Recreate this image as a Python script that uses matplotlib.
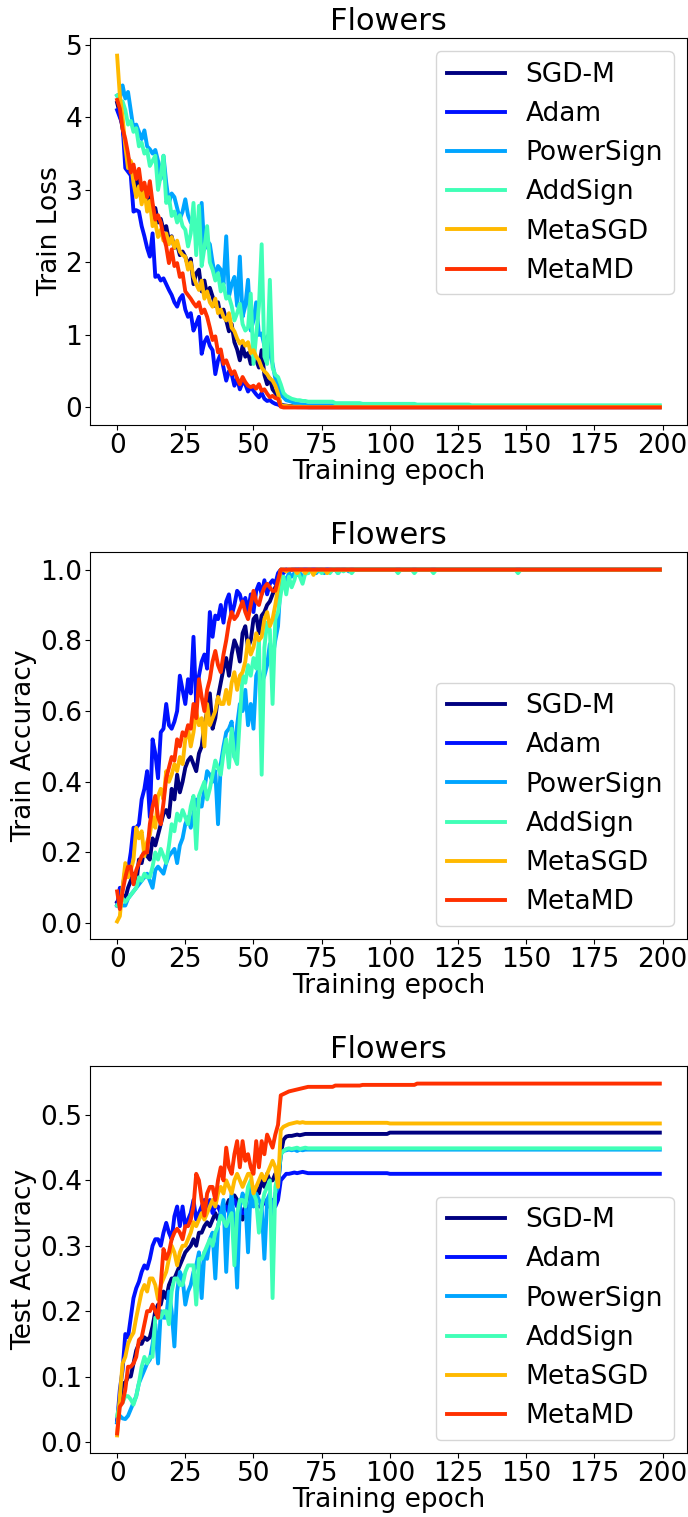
import matplotlib.pyplot as plt
import numpy as np

epochs = np.arange(200)
methods = ['SGD-M', 'Adam', 'PowerSign', 'AddSign', 'MetaSGD', 'MetaMD']

# Train loss per epoch
loss_sgdm = [
    4.20, 4.05, 3.85, 3.60, 3.45, 3.30, 3.20, 3.05, 3.15, 2.95,
    3.00, 2.85, 2.90, 2.70, 2.75, 2.55, 2.60, 2.45, 2.50, 2.30,
    2.36, 2.20, 2.25, 2.10, 2.15, 2.08, 1.95, 2.05, 1.70, 1.85,
    1.90, 1.60, 1.75, 1.55, 1.65, 1.53, 1.40, 1.45, 1.25, 1.35,
    1.20, 1.05, 1.15, 0.90, 0.80, 0.65, 0.85, 0.70, 0.75, 0.60,
    0.70, 0.65, 0.55, 0.79, 0.45, 0.32, 0.40, 0.25, 0.20, 0.15,
    0.04, 0.03, 0.025, 0.02, 0.02, 0.015, 0.015, 0.01, 0.01, 0.01,
] + [0.005] * 130
loss_adam = [
    4.10, 4.00, 3.90, 3.30, 3.25, 3.20, 2.70, 2.72, 2.70, 2.50,
    2.36, 2.20, 2.08, 2.40, 1.80, 1.82, 1.75, 1.78, 1.70, 1.62,
    1.55, 1.45, 1.39, 1.50, 1.55, 1.35, 1.25, 1.30, 1.06, 1.15,
    1.25, 0.74, 0.90, 0.97, 0.85, 0.79, 0.46, 0.65, 0.74, 0.55,
    0.37, 0.50, 0.46, 0.30, 0.40, 0.25, 0.35, 0.32, 0.22, 0.28,
    0.23, 0.18, 0.14, 0.20, 0.12, 0.09, 0.10, 0.07, 0.05, 0.04,
    0.02, 0.015, 0.01, 0.01, 0.008, 0.006, 0.005, 0.005, 0.004, 0.004,
] + [0.003] * 130
loss_power = [
    4.30, 4.25, 4.44, 4.26, 4.35, 4.10, 3.84, 3.90, 3.80, 3.70,
    3.82, 3.60, 3.56, 3.50, 3.55, 3.40, 3.15, 3.47, 3.10, 2.82,
    2.95, 2.90, 2.75, 2.60, 2.70, 2.87, 2.65, 2.55, 2.60, 2.50,
    2.40, 2.82, 2.18, 2.30, 2.25, 2.00, 1.80, 1.95, 1.90, 1.70,
    2.36, 1.53, 1.70, 1.80, 1.40, 2.08, 1.25, 1.40, 1.76, 1.06,
    1.20, 1.45, 1.00, 1.02, 0.85, 0.98, 0.75, 0.60, 0.40, 0.30,
    0.18, 0.14, 0.10, 0.09, 0.08, 0.06, 0.05, 0.045, 0.04, 0.035,
] + [0.03] * 10 + [0.02] * 20 + [0.01] * 100
loss_add = [
    4.30, 4.20, 4.22, 4.10, 3.90, 3.95, 3.80, 3.85, 3.60, 3.65,
    3.50, 3.55, 3.33, 3.40, 3.47, 3.00, 3.20, 3.47, 2.82, 2.90,
    2.64, 2.70, 2.55, 2.65, 2.50, 2.45, 2.22, 2.40, 2.82, 2.10,
    2.78, 1.95, 2.20, 2.50, 2.00, 1.90, 1.75, 1.85, 1.60, 1.70,
    1.50, 1.53, 1.40, 1.20, 1.30, 1.43, 1.15, 1.06, 1.10, 1.57,
    0.60, 1.00, 1.40, 2.25, 0.70, 0.60, 1.76, 0.55, 0.45, 0.42,
    0.32, 0.20, 0.16, 0.14, 0.12, 0.11, 0.10, 0.10, 0.09, 0.09,
] + [0.08] * 10 + [0.06] * 10 + [0.05] * 20 + [0.04] * 20 + [0.03] * 70
loss_metasgd = [
    4.85, 4.30, 4.00, 3.60, 3.30, 3.40, 3.10, 2.90, 3.05, 2.80,
    3.00, 2.70, 2.85, 2.50, 2.55, 2.35, 2.45, 2.30, 2.40, 2.25,
    2.35, 2.20, 2.30, 2.15, 2.10, 2.08, 1.90, 2.00, 1.80, 1.70,
    1.62, 1.75, 1.50, 1.60, 1.45, 1.39, 1.50, 1.30, 1.35, 1.25,
    1.20, 1.30, 1.10, 1.05, 0.95, 0.88, 0.92, 0.85, 0.90, 0.75,
    0.79, 0.70, 0.65, 0.55, 0.50, 0.46, 0.40, 0.37, 0.30, 0.19,
    0.03, 0.02, 0.02, 0.015, 0.015, 0.01, 0.01, 0.01, 0.008, 0.008,
] + [0.005] * 130
loss_metamd = [
    4.24, 4.12, 3.84, 3.70, 3.50, 3.24, 3.35, 3.15, 3.29, 3.00,
    3.10, 2.90, 3.12, 2.82, 2.59, 2.65, 2.55, 2.36, 2.22, 1.99,
    2.18, 1.95, 1.99, 1.80, 1.85, 1.60, 1.55, 1.50, 1.44, 1.39,
    1.45, 1.30, 1.35, 1.25, 1.10, 0.93, 0.98, 0.76, 0.80, 0.60,
    0.65, 0.55, 0.46, 0.50, 0.40, 0.32, 0.42, 0.35, 0.30, 0.28,
    0.30, 0.26, 0.32, 0.23, 0.25, 0.19, 0.14, 0.16, 0.13, 0.12,
    0.01, 0.0, 0.0, 0.0, 0.0, 0.0, 0.0, 0.0, 0.0, 0.0,
] + [0.0] * 130

# Train accuracy per epoch
acc_sgdm = [
    0.06, 0.07, 0.08, 0.07, 0.10, 0.12, 0.14, 0.11, 0.18, 0.17,
    0.21, 0.19, 0.18, 0.24, 0.22, 0.25, 0.28, 0.31, 0.32, 0.30,
    0.38, 0.35, 0.42, 0.37, 0.40, 0.44, 0.46, 0.47, 0.45, 0.43,
    0.48, 0.50, 0.56, 0.60, 0.65, 0.55, 0.58, 0.64, 0.68, 0.72,
    0.75, 0.70, 0.76, 0.80, 0.78, 0.74, 0.82, 0.84, 0.78, 0.80,
    0.86, 0.87, 0.82, 0.87, 0.88, 0.90, 0.91, 0.93, 0.95, 0.96,
    1.0, 1.0, 1.0, 1.0, 1.0, 1.0, 1.0, 1.0, 1.0, 1.0,
] + [1.0] * 130
acc_adam = [
    0.05, 0.10, 0.10, 0.15, 0.15, 0.20, 0.27, 0.27, 0.28, 0.35,
    0.38, 0.43, 0.30, 0.52, 0.48, 0.41, 0.54, 0.55, 0.62, 0.56,
    0.55, 0.57, 0.60, 0.70, 0.66, 0.62, 0.69, 0.65, 0.81, 0.62,
    0.70, 0.74, 0.76, 0.72, 0.88, 0.81, 0.87, 0.86, 0.90, 0.85,
    0.91, 0.93, 0.87, 0.90, 0.94, 0.93, 0.90, 0.92, 0.88, 0.93,
    0.88, 0.94, 0.96, 0.93, 0.97, 0.93, 0.96, 0.97, 0.96, 0.99,
    1.0, 0.99, 1.0, 0.995, 1.0, 1.0, 1.0, 1.0, 1.0, 1.0,
] + [1.0] * 130
acc_power = [
    0.05, 0.06, 0.05, 0.05, 0.07, 0.08, 0.09, 0.10, 0.11, 0.12,
    0.13, 0.14, 0.12, 0.10, 0.15, 0.16, 0.15, 0.14, 0.17, 0.19,
    0.20, 0.21, 0.17, 0.22, 0.24, 0.28, 0.30, 0.27, 0.31, 0.35,
    0.33, 0.33, 0.38, 0.43, 0.42, 0.40, 0.43, 0.28, 0.45, 0.50,
    0.54, 0.55, 0.57, 0.47, 0.56, 0.62, 0.60, 0.66, 0.56, 0.62,
    0.55, 0.70, 0.72, 0.68, 0.70, 0.73, 0.79, 0.75, 0.80, 0.84,
    0.97, 0.98, 0.97, 0.99, 0.98, 0.99, 0.985, 0.99, 0.98, 0.99,
    0.99, 1.0, 0.995, 0.99, 1.0, 1.0, 0.99, 1.0, 0.995, 1.0,
    1.0, 0.99, 1.0, 1.0, 1.0, 0.995, 1.0, 1.0, 1.0, 1.0,
] + [1.0] * 110
acc_add = [
    0.05, 0.06, 0.07, 0.06, 0.07, 0.08, 0.09, 0.10, 0.13, 0.12,
    0.14, 0.13, 0.13, 0.16, 0.20, 0.18, 0.21, 0.19, 0.17, 0.22,
    0.28, 0.26, 0.31, 0.29, 0.32, 0.30, 0.28, 0.33, 0.36, 0.21,
    0.36, 0.38, 0.40, 0.35, 0.38, 0.42, 0.46, 0.44, 0.42, 0.48,
    0.52, 0.44, 0.55, 0.47, 0.45, 0.58, 0.70, 0.68, 0.73, 0.70,
    0.75, 0.72, 0.80, 0.42, 0.78, 0.85, 0.83, 0.62, 0.86, 0.88,
    0.93, 0.98, 0.93, 0.98, 0.95, 0.97, 1.0, 0.98, 0.96, 0.99,
    0.99, 1.0, 0.99, 0.995, 1.0, 0.99, 1.0, 0.995, 0.99, 1.0,
    1.0, 0.99, 1.0, 0.995, 1.0, 1.0, 0.99, 1.0, 1.0, 1.0,
] + [1.0] * 13 + [0.99] + [1.0] * 5 + [0.99] + [1.0] * 6 + [0.99] + [1.0] * 30 + [0.99] + [1.0] * 52
acc_metasgd = [
    0.005, 0.02, 0.10, 0.17, 0.13, 0.15, 0.18, 0.27, 0.24, 0.26,
    0.19, 0.23, 0.25, 0.30, 0.27, 0.36, 0.38, 0.35, 0.43, 0.40,
    0.42, 0.45, 0.43, 0.47, 0.45, 0.52, 0.55, 0.50, 0.54, 0.60,
    0.56, 0.58, 0.50, 0.62, 0.56, 0.58, 0.60, 0.64, 0.62, 0.62,
    0.66, 0.62, 0.68, 0.71, 0.66, 0.70, 0.71, 0.74, 0.80, 0.76,
    0.78, 0.82, 0.80, 0.81, 0.86, 0.88, 0.84, 0.86, 0.90, 0.95,
    1.0, 1.0, 0.995, 1.0, 1.0, 1.0, 0.99, 1.0, 1.0, 0.99,
    1.0, 1.0, 0.985, 1.0, 1.0, 1.0, 1.0, 0.99, 1.0, 1.0,
] + [1.0] * 120
acc_metamd = [
    0.09, 0.04, 0.09, 0.13, 0.16, 0.16, 0.11, 0.15, 0.17, 0.19,
    0.20, 0.20, 0.28, 0.33, 0.36, 0.30, 0.28, 0.34, 0.41, 0.44,
    0.47, 0.46, 0.52, 0.50, 0.54, 0.53, 0.56, 0.55, 0.62, 0.58,
    0.69, 0.64, 0.60, 0.66, 0.69, 0.74, 0.77, 0.73, 0.71, 0.76,
    0.80, 0.85, 0.88, 0.86, 0.87, 0.89, 0.91, 0.88, 0.86, 0.90,
    0.94, 0.91, 0.90, 0.93, 0.95, 0.96, 0.95, 0.94, 0.94, 0.97,
] + [1.0] * 140

# Test accuracy per epoch
test_sgdm = [
    0.03, 0.06, 0.09, 0.09, 0.10, 0.10, 0.12, 0.14, 0.15, 0.15,
    0.16, 0.156, 0.16, 0.177, 0.20, 0.21, 0.21, 0.23, 0.22, 0.24,
    0.25, 0.25, 0.26, 0.27, 0.28, 0.29, 0.295, 0.30, 0.31, 0.30,
    0.32, 0.32, 0.33, 0.336, 0.33, 0.34, 0.35, 0.34, 0.35, 0.356,
    0.36, 0.37, 0.36, 0.377, 0.37, 0.35, 0.34, 0.36, 0.38, 0.37,
    0.38, 0.39, 0.38, 0.40, 0.39, 0.41, 0.40, 0.40, 0.41, 0.39,
    0.44, 0.462, 0.467, 0.468, 0.468, 0.469, 0.47, 0.469, 0.47, 0.471,
] + [0.471] * 30 + [0.473] * 100
test_adam = [
    0.03, 0.08, 0.11, 0.165, 0.16, 0.19, 0.22, 0.235, 0.245, 0.26,
    0.27, 0.265, 0.28, 0.30, 0.31, 0.31, 0.30, 0.32, 0.335, 0.32,
    0.31, 0.345, 0.36, 0.33, 0.36, 0.33, 0.34, 0.35, 0.37, 0.34,
    0.35, 0.36, 0.37, 0.36, 0.37, 0.35, 0.36, 0.36, 0.35, 0.36,
    0.36, 0.35, 0.36, 0.37, 0.36, 0.36, 0.35, 0.35, 0.36, 0.36,
    0.37, 0.36, 0.36, 0.36, 0.37, 0.36, 0.36, 0.37, 0.36, 0.37,
    0.40, 0.405, 0.41, 0.41, 0.411, 0.412, 0.411, 0.412, 0.413, 0.412,
] + [0.411] * 30 + [0.41] * 100
test_power = [
    0.03, 0.04, 0.036, 0.035, 0.04, 0.05, 0.06, 0.07, 0.09, 0.10,
    0.11, 0.12, 0.126, 0.15, 0.18, 0.12, 0.20, 0.19, 0.19, 0.23,
    0.20, 0.146, 0.23, 0.26, 0.25, 0.21, 0.23, 0.24, 0.26, 0.27,
    0.29, 0.22, 0.29, 0.28, 0.31, 0.32, 0.25, 0.33, 0.35, 0.37,
    0.26, 0.35, 0.38, 0.33, 0.236, 0.36, 0.38, 0.37, 0.29, 0.39,
    0.36, 0.38, 0.37, 0.36, 0.28, 0.37, 0.38, 0.34, 0.38, 0.39,
    0.44, 0.445, 0.446, 0.447, 0.446, 0.447, 0.445, 0.447, 0.446, 0.447,
] + [0.447] * 130
test_add = [
    0.04, 0.06, 0.06, 0.07, 0.07, 0.065, 0.057, 0.07, 0.09, 0.115,
    0.13, 0.12, 0.13, 0.13, 0.19, 0.19, 0.19, 0.20, 0.20, 0.18,
    0.23, 0.25, 0.25, 0.24, 0.24, 0.26, 0.27, 0.27, 0.27, 0.21,
    0.28, 0.28, 0.29, 0.30, 0.31, 0.30, 0.32, 0.33, 0.346, 0.34,
    0.33, 0.34, 0.35, 0.27, 0.35, 0.37, 0.37, 0.36, 0.39, 0.40,
    0.38, 0.37, 0.32, 0.36, 0.38, 0.39, 0.40, 0.22, 0.39, 0.41,
    0.44, 0.445, 0.448, 0.449, 0.448, 0.449, 0.45, 0.448, 0.449, 0.45,
] + [0.449] * 130
test_metasgd = [
    0.01, 0.07, 0.12, 0.13, 0.15, 0.16, 0.167, 0.19, 0.21, 0.23,
    0.24, 0.23, 0.25, 0.25, 0.24, 0.218, 0.24, 0.25, 0.26, 0.28,
    0.30, 0.29, 0.27, 0.29, 0.30, 0.30, 0.31, 0.32, 0.336, 0.33,
    0.34, 0.35, 0.34, 0.35, 0.36, 0.37, 0.36, 0.38, 0.39, 0.38,
    0.40, 0.39, 0.38, 0.40, 0.41, 0.40, 0.39, 0.40, 0.41, 0.41,
    0.38, 0.39, 0.40, 0.41, 0.40, 0.41, 0.42, 0.43, 0.42, 0.39,
    0.477, 0.482, 0.484, 0.486, 0.487, 0.488, 0.489, 0.488, 0.489, 0.488,
] + [0.488] * 30 + [0.487] * 100
test_metamd = [
    0.013, 0.054, 0.06, 0.08, 0.115, 0.115, 0.12, 0.13, 0.156, 0.16,
    0.18, 0.20, 0.20, 0.21, 0.20, 0.19, 0.24, 0.295, 0.28, 0.29,
    0.31, 0.32, 0.326, 0.32, 0.31, 0.33, 0.33, 0.34, 0.36, 0.41,
    0.40, 0.37, 0.346, 0.38, 0.39, 0.39, 0.37, 0.40, 0.42, 0.40,
    0.45, 0.42, 0.41, 0.44, 0.46, 0.42, 0.46, 0.43, 0.44, 0.42,
    0.41, 0.46, 0.42, 0.46, 0.44, 0.47, 0.46, 0.45, 0.47, 0.485,
    0.53, 0.532, 0.534, 0.536, 0.537, 0.538, 0.539, 0.540, 0.541, 0.542,
] + [0.543] * 10 + [0.545] * 10 + [0.546] * 20 + [0.548] * 90

train_loss = [loss_sgdm, loss_adam, loss_power, loss_add, loss_metasgd, loss_metamd]
train_acc = [acc_sgdm, acc_adam, acc_power, acc_add, acc_metasgd, acc_metamd]
test_acc = [test_sgdm, test_adam, test_power, test_add, test_metasgd, test_metamd]

colors = plt.cm.jet([0, 1 / 7, 2 / 7, 3 / 7, 5 / 7, 6 / 7])

fig = plt.figure(figsize=(6.88, 15.17), dpi=100)

panels = [
    (train_loss, 'Train Loss', 'upper right', 0.7198),
    (train_acc, 'Train Accuracy', 'lower right', 0.3810),
    (test_acc, 'Test Accuracy', 'lower right', 0.0422),
]

for curves, ylabel, loc, bottom in panels:
    ax = fig.add_axes([0.1308, bottom, 0.8677, 0.2551])
    for curve, name, c in zip(curves, methods, colors):
        ax.plot(epochs, curve, color=c, lw=2.8, label=name)
    ax.set_title('Flowers', fontsize=22)
    ax.set_xlabel('Training epoch', fontsize=19, labelpad=0)
    ax.set_ylabel(ylabel, fontsize=19, labelpad=2)
    ax.tick_params(labelsize=19, pad=2)
    ax.set_xticks(np.arange(0, 201, 25))
    ax.legend(loc=loc, fontsize=19, handlelength=2.2)

fig.savefig('out.png', dpi=100)
